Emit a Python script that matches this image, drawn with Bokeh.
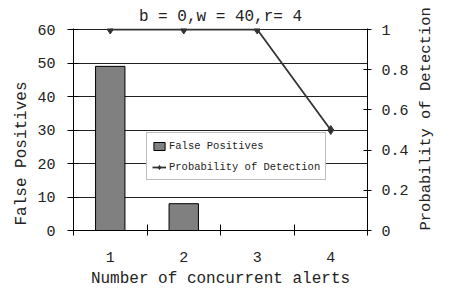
import math
from bokeh.plotting import figure
from bokeh.models import Range1d, LinearAxis, FixedTicker, Title, Legend, LegendItem
from bokeh.embed import file_html
from bokeh.resources import INLINE

# ---- data ----
alerts = [1, 2, 3, 4]
alert_labels = ["1", "2", "3", "4"]
false_positives = [49, 8, 0, 0]
prob_detection = [1, 1, 1, 0.5]
title_text = "b = 0,w = 40,r= 4"
x_title = "Number of concurrent alerts"
left_title = "False Positives"
right_title = "Probability of Detection"
left_ticks = [0, 10, 20, 30, 40, 50, 60]
right_ticks = [0, 0.2, 0.4, 0.6, 0.8, 1]
right_tick_labels = ["0", "0.2", "0.4", "0.6", "0.8", "1"]

FONT = "Liberation Mono"
TXT = "#222222"

p = figure(width=446, height=291, output_backend="svg", toolbar_location=None,
           x_range=Range1d(0.5, 4.5), y_range=Range1d(0, 60.3),
           min_border_left=73, min_border_right=66, min_border_top=28,
           min_border_bottom=61)
p.outline_line_color = None
p.background_fill_color = "white"
p.border_fill_color = "white"
p.extra_y_ranges = {"prob": Range1d(0, 1.005)}

# title
p.title.text = title_text
p.title.align = "center"
p.title.text_font = FONT
p.title.text_font_size = "16px"
p.title.text_font_style = "normal"
p.title.text_color = TXT
p.title.standoff = 6

# grid
p.xgrid.grid_line_color = None
p.ygrid.ticker = FixedTicker(ticks=left_ticks)
p.ygrid.grid_line_color = "#222222"
p.ygrid.grid_line_width = 1

# left axis
ya = p.yaxis[0]
ya.ticker = FixedTicker(ticks=left_ticks)
ya.major_tick_in = 5
ya.major_tick_out = 6
ya.minor_tick_line_color = None
ya.major_label_text_font = FONT
ya.major_label_text_font_size = "15px"
ya.major_label_text_color = TXT
ya.major_label_standoff = 12
ya.axis_line_color = "black"
ya.major_tick_line_color = "black"

# bottom axis
xa = p.xaxis[0]
xa.ticker = FixedTicker(ticks=alerts, minor_ticks=[0.5, 1.5, 2.5, 3.5, 4.5])
xa.major_label_overrides = {a: l for a, l in zip(alerts, alert_labels)}
xa.major_tick_line_color = None
xa.major_tick_in = 0
xa.major_tick_out = 0
xa.minor_tick_in = 6
xa.minor_tick_out = 5
xa.minor_tick_line_color = "black"
xa.axis_line_color = "black"
xa.major_label_text_font = FONT
xa.major_label_text_font_size = "15px"
xa.major_label_text_color = TXT
xa.major_label_standoff = 16
xa.axis_label = x_title
xa.axis_label_text_font = FONT
xa.axis_label_text_font_size = "16px"
xa.axis_label_text_font_style = "normal"
xa.axis_label_text_color = TXT
xa.axis_label_standoff = 5

# right axis
ra = LinearAxis(y_range_name="prob", ticker=FixedTicker(ticks=right_ticks))
ra.major_label_overrides = {t: l for t, l in zip(right_ticks, right_tick_labels)}
ra.major_tick_in = 4
ra.major_tick_out = 4
ra.minor_tick_line_color = None
ra.major_label_text_font = FONT
ra.major_label_text_font_size = "15px"
ra.major_label_text_color = TXT
ra.major_label_standoff = 10
ra.axis_line_color = "black"
ra.axis_label = right_title
ra.axis_label_text_font = FONT
ra.axis_label_text_font_size = "15.5px"
ra.axis_label_text_font_style = "normal"
ra.axis_label_text_color = TXT
ra.axis_label_standoff = 14
ra.axis_label_orientation = math.pi / 2
ra.axis_label_align = "start"
p.add_layout(ra, "right")

# bars
bars = p.vbar(x=alerts, top=false_positives, width=0.4, bottom=0,
              fill_color="#808080", line_color="black", line_width=1)

# line
ln = p.line(alerts, prob_detection, y_range_name="prob", line_color="#333333",
            line_width=1.8)
pts = p.scatter(alerts, prob_detection, y_range_name="prob", marker="diamond",
                size=9, fill_color="#333333", line_color="#333333")

legend = Legend(items=[LegendItem(label="False Positives", renderers=[bars]),
                       LegendItem(label=right_title, renderers=[ln, pts])],
                location=(73, 50))
legend.label_text_font = FONT
legend.label_text_font_size = "10.5px"
legend.label_text_color = TXT
legend.glyph_width = 14
legend.glyph_height = 10
legend.label_height = 15
legend.label_standoff = 3
legend.padding = 5
legend.spacing = 6
legend.margin = 0
legend.border_line_color = "#808080"
legend.border_line_width = 1
legend.background_fill_color = "white"
legend.background_fill_alpha = 1
p.add_layout(legend)

# left side title
lt = Title(text=left_title, align="left", offset=5, standoff=7,
           text_font=FONT, text_font_size="16px", text_font_style="normal",
           text_color=TXT)
p.add_layout(lt, "left")

open("out.html", "w").write(file_html(p, INLINE))
